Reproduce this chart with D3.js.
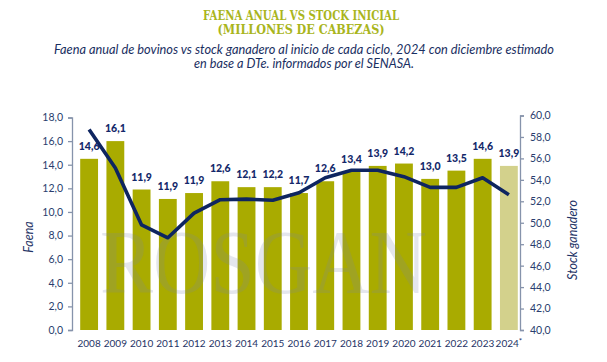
<!DOCTYPE html>
<html>
<head>
<meta charset="utf-8">
<script src="https://cdn.jsdelivr.net/npm/d3@7"></script>
<style>
  body { margin: 0; background: #fff; }
  svg { display: block; }
</style>
</head>
<body>
<svg id="chart"></svg>
<script>
const width = 607;
const height = 362;

// data
const years = ["2008", "2009", "2010", "2011", "2012", "2013", "2014", "2015", "2016",
  "2017", "2018", "2019", "2020", "2021", "2022", "2023", "2024"];
const faena = [14.5, 16.0, 11.9, 11.1, 11.6, 12.6, 12.1, 12.1, 11.6,
  12.6, 13.4, 13.9, 14.1, 12.8, 13.5, 14.5, 13.9];
const faenaLabels = ["14,6", "16,1", "11,9", "11,9", "11,9", "12,6", "12,1", "12,2", "11,7",
  "12,6", "13,4", "13,9", "14,2", "13,0", "13,5", "14,6", "13,9"];
const stock = [58.7, 55.1, 49.8, 48.6, 50.9, 52.15, 52.2, 52.1, 52.8,
  54.2, 54.9, 54.9, 54.3, 53.3, 53.3, 54.2, 52.6];
const leftTicks = [0, 2, 4, 6, 8, 10, 12, 14, 16, 18];
const rightTicks = [40, 42, 44, 46, 48, 50, 52, 54, 56, 58, 60];

const navy = "#13286a";
const olive = "#a9ab00";
const axisGrey = "#8693ab";
const fmt = v => v.toFixed(1).replace(".", ",");

const svg = d3.select("#chart")
    .attr("width", width)
    .attr("height", height);

// titles
const title = svg.append("g")
    .attr("font-family", "'DejaVu Serif', serif")
    .attr("font-weight", "bold")
    .attr("fill", "#a9b51c")
    .attr("text-anchor", "middle");
title.append("text").attr("x", 301).attr("y", 20).attr("font-size", 12)
    .attr("textLength", 196).attr("lengthAdjust", "spacingAndGlyphs")
    .text("FAENA ANUAL VS STOCK INICIAL");
title.append("text").attr("x", 301).attr("y", 34).attr("font-size", 12)
    .attr("textLength", 167).attr("lengthAdjust", "spacingAndGlyphs")
    .text("(MILLONES DE CABEZAS)");

const sub = svg.append("g")
    .attr("font-family", "Lato, sans-serif")
    .attr("font-style", "italic")
    .attr("font-size", 12.5)
    .attr("fill", "#1a2f62")
    .attr("text-anchor", "middle");
sub.append("text").attr("x", 304).attr("y", 54)
    .attr("textLength", 500).attr("lengthAdjust", "spacingAndGlyphs")
    .text("Faena anual de bovinos vs stock ganadero al inicio de cada ciclo, 2024 con diciembre estimado");
sub.append("text").attr("x", 304).attr("y", 68)
    .attr("textLength", 220).attr("lengthAdjust", "spacingAndGlyphs")
    .text("en base a DTe. informados por el SENASA.");

// scales
const x = d3.scaleBand()
    .domain(years)
    .range([76, 522])
    .paddingInner(0.32)
    .paddingOuter(0.16);

const yL = d3.scaleLinear().domain([0, 18]).range([330, 117.5]);
const yR = d3.scaleLinear().domain([40, 60]).range([330, 115.5]);

// bars
svg.selectAll(".bar")
    .data(years)
    .enter()
    .append("rect")
    .attr("class", "bar")
    .attr("x", d => x(d))
    .attr("width", x.bandwidth())
    .attr("y", (d, i) => yL(faena[i]))
    .attr("height", (d, i) => yL(0) - yL(faena[i]))
    .attr("fill", (d, i) => i === years.length - 1 ? "#d3d18c" : olive);

// watermark
svg.append("text")
    .attr("x", 100)
    .attr("y", 293)
    .attr("font-family", "'Liberation Serif', serif")
    .attr("font-size", 92)
    .attr("textLength", 327)
    .attr("lengthAdjust", "spacingAndGlyphs")
    .attr("fill", "#7c84a8")
    .attr("opacity", 0.2)
    .text("ROSGAN");

// line
const line = d3.line()
    .x((d, i) => x(years[i]) + x.bandwidth() / 2)
    .y(d => yR(d));

svg.append("path")
    .datum(stock)
    .attr("d", line)
    .attr("fill", "none")
    .attr("stroke", "#0e2560")
    .attr("stroke-width", 3.6)
    .attr("stroke-linejoin", "round")
    .attr("stroke-linecap", "butt");

// value labels
svg.selectAll(".vlabel")
    .data(years)
    .enter()
    .append("text")
    .attr("class", "vlabel")
    .attr("x", d => x(d) + x.bandwidth() / 2)
    .attr("y", (d, i) => yL(faena[i]) - 9)
    .attr("text-anchor", "middle")
    .attr("font-family", "Lato, sans-serif")
    .attr("font-weight", "900")
    .attr("font-size", 10.5)
    .attr("fill", navy)
    .text((d, i) => faenaLabels[i]);

// axes
const leftAxis = svg.append("g")
    .attr("transform", "translate(72,0)")
    .call(d3.axisLeft(yL).tickValues(leftTicks).tickFormat(fmt).tickSize(4).tickPadding(5));

const rightAxis = svg.append("g")
    .attr("transform", "translate(520,0)")
    .call(d3.axisRight(yR).tickValues(rightTicks).tickFormat(fmt).tickSize(4).tickPadding(6));

[leftAxis, rightAxis].forEach(a => {
  a.select(".domain").attr("stroke", axisGrey).attr("stroke-width", 1.3);
  a.selectAll(".tick line").attr("stroke", axisGrey).attr("stroke-width", 1.3);
  a.selectAll(".tick text")
      .attr("fill", "#2a3d6e")
      .attr("font-family", "Lato, sans-serif")
      .attr("font-size", 10.5);
});

const bottomAxis = svg.append("g")
    .attr("transform", "translate(0,330)")
    .call(d3.axisBottom(x).tickSize(0).tickPadding(10));
bottomAxis.select(".domain").remove();
bottomAxis.selectAll(".tick text")
    .attr("fill", "#1f3466")
    .attr("font-family", "Lato, sans-serif")
    .attr("font-size", 10)
    .text(null)
    .each(function(d) {
      const t = d3.select(this);
      t.append("tspan").text(d);
      if (d === "2024") {
        t.append("tspan").attr("dy", -3).attr("font-size", 8).text("*");
      }
    });

// axis titles
svg.append("text")
    .attr("transform", "translate(33,237) rotate(-90)")
    .attr("text-anchor", "middle")
    .attr("font-family", "Lato, sans-serif")
    .attr("font-style", "italic")
    .attr("font-size", 12.5)
    .attr("fill", "#1f3466")
    .text("Faena");

svg.append("text")
    .attr("transform", "translate(577,240) rotate(-90)")
    .attr("text-anchor", "middle")
    .attr("font-family", "Lato, sans-serif")
    .attr("font-style", "italic")
    .attr("font-size", 12.5)
    .attr("fill", "#1f3466")
    .text("Stock ganadero");
</script>
</body>
</html>
